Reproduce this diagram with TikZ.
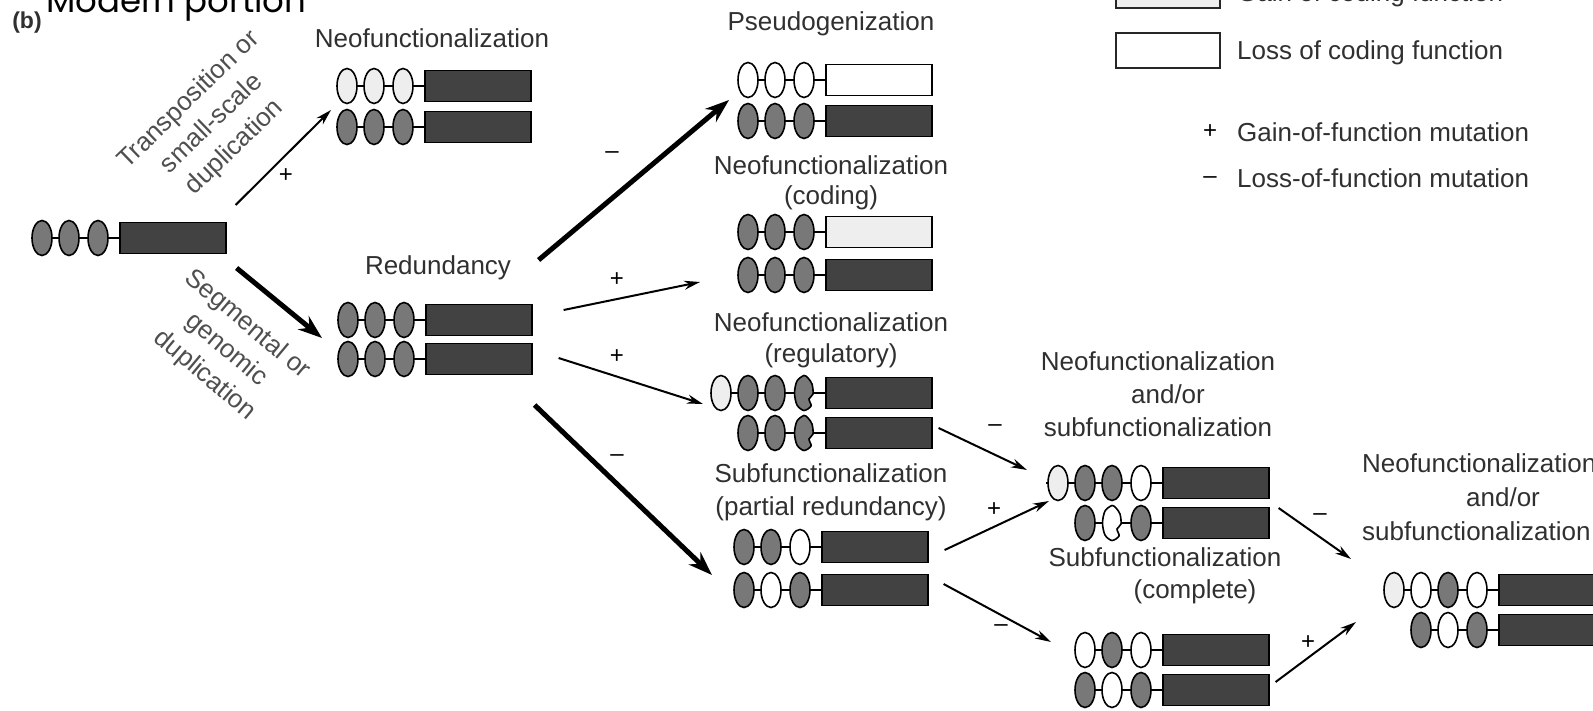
\documentclass[tikz,border=0pt]{standalone}
\usepackage{fontspec}
\setmainfont{Liberation Sans}
\newfontfamily\handfont{Poppins}
\usetikzlibrary{arrows.meta,calc}
\definecolor{rectc}{HTML}{424242}
\definecolor{dk}{HTML}{787878}
\definecolor{lt}{HTML}{EEEEEE}
\definecolor{wh}{HTML}{FFFFFF}
\definecolor{txt}{HTML}{303030}
\tikzset{
  lbl/.style={font=\fontsize{26}{33}\selectfont, text=txt, inner sep=0, anchor=base},
  rotlbl/.style={font=\fontsize{26}{33}\selectfont, text=txt!85, inner sep=0, align=center},
  generect/.style={draw=black, line width=1.6, minimum width=106, minimum height=31, inner sep=0, anchor=west},
  ovalshape/.style={draw=black, line width=1.6},
  genoval/.pic={\draw[ovalshape, fill=#1] (0,0) ellipse [x radius=10, y radius=17.5];},
  genotch/.pic={\draw[ovalshape, fill=#1] plot[smooth cycle] coordinates {(0,-17.5) (-7,-12) (-9.5,0) (-7,12) (0,17.5) (7,13) (5,6) (9,1) (8,-9) (4,-15)};},
  thinarrow/.style={line width=2, -{Stealth[length=16,width=9]}},
  thickarrow/.style={line width=5, -{Stealth[length=24,width=17]}},
  sign/.style={font=\fontsize{24}{28}\selectfont, text=black, inner sep=0},
  legbox/.style={draw=black!85, line width=1.6, minimum width=104, minimum height=35, inner sep=0, anchor=north west},
}
% [#1 rect colour] #2 name, #3 rect-left x, #4 centre y, #5 line start offset, #6 list offset/colour/pic
\newcommand{\genebar}[6][rectc]{%
  \begin{scope}[shift={(#3,#4)}]
    \draw[line width=1.6] (#5,0) -- (0,0);
    \foreach \o/\c/\p in {#6} { \pic at (\o,0) {\p=\c}; }
    \node[generect, fill=#1] (#2) at (0,0) {};
  \end{scope}}
\begin{document}
\begin{tikzpicture}[x=1pt,y=-1pt]
\clip (0,0) rectangle (1593,710);
\fill[white] (0,0) rectangle (1593,710);

% cut-off heading at the top
\node[font=\handfont\fontsize{34}{40}\selectfont, anchor=base west, inner sep=0] (head) at (46,12) {Modern portion};
\node[font=\bfseries\fontsize{23}{26}\selectfont, text=txt, inner sep=0] (blab) at (27,23) {(b)};

% genes
\genebar{g0}{119}{238}{-77}{-77/dk/genoval,-50/dk/genoval,-21/dk/genoval}
\genebar{gN1}{424}{86}{-77}{-77/lt/genoval,-50/lt/genoval,-21/lt/genoval}
\genebar{gN2}{424}{127}{-77}{-77/dk/genoval,-50/dk/genoval,-21/dk/genoval}
\genebar{gR1}{425}{320}{-77}{-77/dk/genoval,-50/dk/genoval,-21/dk/genoval}
\genebar{gR2}{425}{359}{-77}{-77/dk/genoval,-50/dk/genoval,-21/dk/genoval}
\genebar[white]{gP1}{825}{80}{-77}{-77/wh/genoval,-50/wh/genoval,-21/wh/genoval}
\genebar{gP2}{825}{121}{-77}{-77/dk/genoval,-50/dk/genoval,-21/dk/genoval}
\genebar[lt]{gC1}{825}{232}{-77}{-77/dk/genoval,-50/dk/genoval,-21/dk/genoval}
\genebar{gC2}{825}{275}{-77}{-77/dk/genoval,-50/dk/genoval,-21/dk/genoval}
\genebar{gG1}{825}{393}{-104}{-104/lt/genoval,-77/dk/genoval,-50/dk/genoval,-21/dk/genotch}
\genebar{gG2}{825}{433}{-77}{-77/dk/genoval,-50/dk/genoval,-21/dk/genotch}
\genebar{gS1}{821}{547}{-77}{-77/dk/genoval,-50/dk/genoval,-21/wh/genoval}
\genebar{gS2}{821}{590}{-77}{-77/dk/genoval,-50/wh/genoval,-21/dk/genoval}
\genebar{gM1}{1162}{483}{-116}{-104/lt/genoval,-77/dk/genoval,-50/dk/genoval,-21/wh/genoval}
\genebar{gM2}{1162}{523}{-77}{-77/dk/genoval,-50/wh/genotch,-21/dk/genoval}
\genebar{gK1}{1162}{650}{-77}{-77/wh/genoval,-50/dk/genoval,-21/wh/genoval}
\genebar{gK2}{1162}{690}{-77}{-77/dk/genoval,-50/wh/genoval,-21/dk/genoval}
\genebar{gF1}{1498}{590}{-104}{-104/lt/genoval,-77/wh/genoval,-50/dk/genoval,-21/wh/genoval}
\genebar{gF2}{1498}{630}{-77}{-77/dk/genoval,-50/wh/genoval,-21/dk/genoval}

% labels
\node[lbl] (tN) at (432,47) {Neofunctionalization};
\node[lbl] (tR) at (438,274) {Redundancy};
\node[lbl] (tP) at (831,30) {Pseudogenization};
\node[lbl] (tC1) at (831,174) {Neofunctionalization};
\node[lbl] (tC2) at (831,204) {(coding)};
\node[lbl] (tG1) at (831,331) {Neofunctionalization};
\node[lbl] (tG2) at (831,362) {(regulatory)};
\node[lbl] (tS1) at (831,482) {Subfunctionalization};
\node[lbl] (tS2) at (831,515) {(partial redundancy)};
\node[lbl] (tM1) at (1158,370) {Neofunctionalization};
\node[lbl] (tM2) at (1168,403) {and/or};
\node[lbl] (tM3) at (1158,436) {subfunctionalization};
\node[lbl] (tK1) at (1165,566) {Subfunctionalization};
\node[lbl] (tK2) at (1195,598) {(complete)};
\node[lbl, anchor=base west] (tF1) at (1362,472) {Neofunctionalization};
\node[lbl] (tF2) at (1503,506) {and/or};
\node[lbl, anchor=base west] (tF3) at (1362,540) {subfunctionalization};

\node[rotlbl, rotate=44] (tT) at (212,124) {Transposition or\\small-scale\\duplication};
\node[rotlbl, rotate=-40] (tSg) at (226,350) {Segmental or\\genomic\\duplication};

% connectors
\draw[thinarrow] ($(g0.east)+(9,-33)$) -- ($(gN2.west)+(-93,-17)$);
\draw[thickarrow] ($(g0.east)+(10,30)$) -- ($(gR2.west)+(-103,-21)$);
\draw[thickarrow] ($(gR1.east)+(6,-60)$) -- ($(gP1.west)+(-96,20)$);
\draw[thinarrow] ($(gR1.east)+(31,-10)$) -- ($(gC2.west)+(-125,7)$);
\draw[thinarrow] ($(gR2.east)+(26,-1)$) -- ($(gG1.west)+(-122,11)$);
\draw[thickarrow] ($(gR2.east)+(2,46)$) -- ($(gS2.west)+(-109,-15)$);
\draw[thinarrow] ($(gG2.east)+(6,-5)$) -- ($(gM1.west)+(-135,-13)$);
\draw[thinarrow] ($(gS1.east)+(16,3)$) -- ($(gM2.west)+(-113,-22)$);
\draw[thinarrow] ($(gS2.east)+(15,-6)$) -- ($(gK1.west)+(-111,-8)$);
\draw[thinarrow] ($(gM2.east)+(9,-15)$) -- ($(gF1.west)+(-147,-31)$);
\draw[thinarrow] ($(gK2.east)+(6,-8)$) -- ($(gF2.west)+(-142,-8)$);

% signs
\node[sign] (s1) at (286,176) {+};
\node[sign] (s2) at (612,155) {\textendash};
\node[sign] (s3) at (617,280) {+};
\node[sign] (s4) at (617,357) {+};
\node[sign] (s5) at (617,458) {\textendash};
\node[sign] (s6) at (995,428) {\textendash};
\node[sign] (s7) at (994,510) {+};
\node[sign] (s8) at (1001,628) {\textendash};
\node[sign] (s9) at (1320,517) {\textendash};
\node[sign] (s10) at (1308,643) {+};

% legend
\node[legbox, fill=lt] (lg1) at (1115,-28) {};
\node[lbl, anchor=base west] (lgt1) at (1237,1) {Gain of coding function};
\node[legbox, fill=white] (lg2) at (1115,32) {};
\node[lbl, anchor=base west] (lgt2) at (1237,59) {Loss of coding function};
\node[sign] (lgs3) at (1210,132) {+};
\node[lbl, anchor=base west] (lgt3) at (1237,141) {Gain-of-function mutation};
\node[sign] (lgs4) at (1210,180) {\textendash};
\node[lbl, anchor=base west] (lgt4) at (1237,187) {Loss-of-function mutation};
\end{tikzpicture}
\end{document}
